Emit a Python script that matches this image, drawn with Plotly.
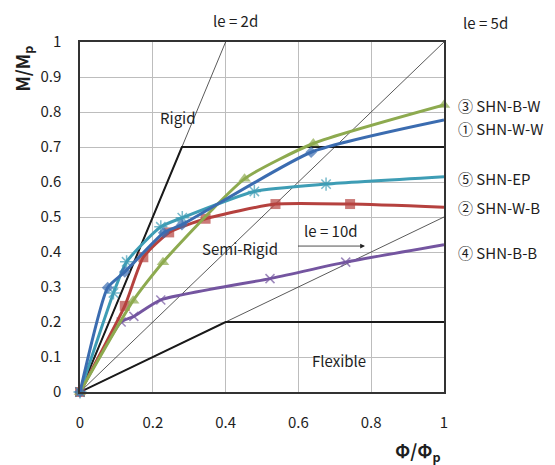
import plotly.graph_objects as go

# ---- data ----
ww_x = [0, 0.076, 0.123, 0.23, 0.28, 0.635, 1.0]          # ① SHN-W-W
ww_y = [0, 0.298, 0.343, 0.455, 0.478, 0.685, 0.777]
wb_x = [0, 0.123, 0.174, 0.245, 0.345, 0.537, 0.742, 1.0]  # ② SHN-W-B
wb_y = [0, 0.246, 0.385, 0.456, 0.495, 0.537, 0.537, 0.528]
bw_x = [0, 0.146, 0.228, 0.452, 0.641, 1.0]                # ③ SHN-B-W
bw_y = [0, 0.261, 0.371, 0.609, 0.71, 0.82]
bb_x = [0, 0.113, 0.148, 0.222, 0.522, 0.73, 1.0]          # ④ SHN-B-B
bb_y = [0, 0.20, 0.216, 0.263, 0.324, 0.371, 0.421]
ep_x = [0, 0.092, 0.128, 0.222, 0.281, 0.479, 0.676, 1.0]  # ⑤ SHN-EP
ep_y = [0, 0.283, 0.372, 0.472, 0.498, 0.573, 0.594, 0.615]

# boundary lines
rigid_x = [0, 0.28, 1.0]
rigid_y = [0, 0.70, 0.70]
flex_x = [0, 0.40, 1.0]
flex_y = [0, 0.20, 0.20]
le2d_x, le2d_y = [0, 0.4], [0, 1.0]
le5d_x, le5d_y = [0, 1.0], [0, 1.0]
le10d_x, le10d_y = [0, 1.0], [0, 0.5]

x_ticks = [0, 0.2, 0.4, 0.6, 0.8, 1.0]
x_labels = ["0", "0.2", "0.4", "0.6", "0.8", "1"]
y_ticks = [0, 0.1, 0.2, 0.3, 0.4, 0.5, 0.6, 0.7, 0.8, 0.9, 1.0]
y_labels = ["0", "0.1", "0.2", "0.3", "0.4", "0.5", "0.6", "0.7", "0.8", "0.9", "1"]

series_labels = ["③ SHN-B-W", "① SHN-W-W", "⑤ SHN-EP", "② SHN-W-B", "④ SHN-B-B"]
series_label_y = [0.82, 0.753, 0.61, 0.527, 0.4]

FONT = "Noto Sans CJK KR"
BLUE, RED, GREEN, PURPLE, CYAN = "#3B6CB0", "#B5413E", "#8DAA4F", "#7455A0", "#3E9DB5"
TXT = "#1e1e1e"

fig = go.Figure()

# thin reference lines
for xs, ys in [(le2d_x, le2d_y), (le5d_x, le5d_y), (le10d_x, le10d_y)]:
    fig.add_trace(go.Scatter(x=xs, y=ys, mode="lines",
                             line=dict(color="#303030", width=0.8),
                             hoverinfo="skip", showlegend=False))
# thick boundary lines
for xs, ys in [(rigid_x, rigid_y), (flex_x, flex_y)]:
    fig.add_trace(go.Scatter(x=xs, y=ys, mode="lines",
                             line=dict(color="#1a1a1a", width=2),
                             hoverinfo="skip", showlegend=False))

def series(xs, ys, color, symbol, size, name, end_marker=True, mline=0):
    sizes = [size] * len(xs)
    if not end_marker:
        sizes[-1] = 0
    fig.add_trace(go.Scatter(
        x=xs, y=ys, mode="lines+markers", name=name, showlegend=False,
        line=dict(color=color, width=3, shape="spline", smoothing=0.55),
        marker=dict(symbol=symbol, size=sizes, color=color,
                    line=dict(color=color, width=mline)),
        cliponaxis=False))

series(bb_x, bb_y, PURPLE, "x-thin-open", 9, "SHN-B-B", False, 1.5)
series(wb_x, wb_y, RED, "square", 10, "SHN-W-B", False)
series(ep_x, ep_y, CYAN, "asterisk-open", 11, "SHN-EP", False, 1.5)
series(bw_x, bw_y, GREEN, "triangle-up", 11, "SHN-B-W", True)
series(ww_x, ww_y, BLUE, "diamond", 9, "SHN-W-W", False)

def txt(x, y, t, size=15, xanchor="center", **kw):
    d = dict(xref="paper", yref="paper", x=x, y=y, text=t, showarrow=False,
             xanchor=xanchor, yanchor="middle",
             font=dict(size=size, color=TXT, family=FONT))
    d.update(kw)
    return d

ann = [
    txt(0.27, 0.785, "Rigid"),
    txt(0.44, 0.41, "Semi-Rigid"),
    txt(0.712, 0.091, "Flexible"),
    txt(0.69, 0.462, "le = 10d"),
    dict(x=0.783, y=0.417, ax=0.595, ay=0.417, axref="x", ayref="y",
         text="", showarrow=True, arrowhead=2, arrowsize=1.2,
         arrowwidth=0.8, arrowcolor="#222"),
    txt(0.426, 1.061, "le = 2d"),
    txt(1.113, 1.056, "le = 5d"),
]
for t, yy in zip(series_labels, series_label_y):
    ann.append(txt(1.033, yy, t, xanchor="left"))
ann.append(txt(-0.155, 0.923, "<b>M/M<sub>p</sub></b>", size=18, textangle=-90))
ann.append(txt(0.929, -0.171, "<b>Φ/Φ<sub>p</sub></b>", size=18))

# page body has an 8px margin: figure is placed at (8, 8)
fig.update_layout(
    width=547, height=457,
    margin=dict(l=72, r=111, t=34, b=73),
    paper_bgcolor="white", plot_bgcolor="white",
    showlegend=False,
    annotations=ann,
    font=dict(family=FONT, size=15, color=TXT),
)
fig.update_xaxes(range=[0, 1], tickvals=x_ticks, ticktext=x_labels,
                 showgrid=True, gridcolor="#bdbdbd", gridwidth=1,
                 zeroline=False, showline=True, linecolor="#333", linewidth=1.5,
                 mirror=True, ticks="", ticklabelstandoff=16,
                 tickfont=dict(size=15, color=TXT, family=FONT))
fig.update_yaxes(range=[0, 1], tickvals=y_ticks, ticktext=y_labels,
                 showgrid=True, gridcolor="#bdbdbd", gridwidth=1,
                 zeroline=False, showline=True, linecolor="#333", linewidth=1.5,
                 mirror=True, ticks="", ticklabelstandoff=14,
                 tickfont=dict(size=15, color=TXT, family=FONT))

fig.write_html("out.html")
